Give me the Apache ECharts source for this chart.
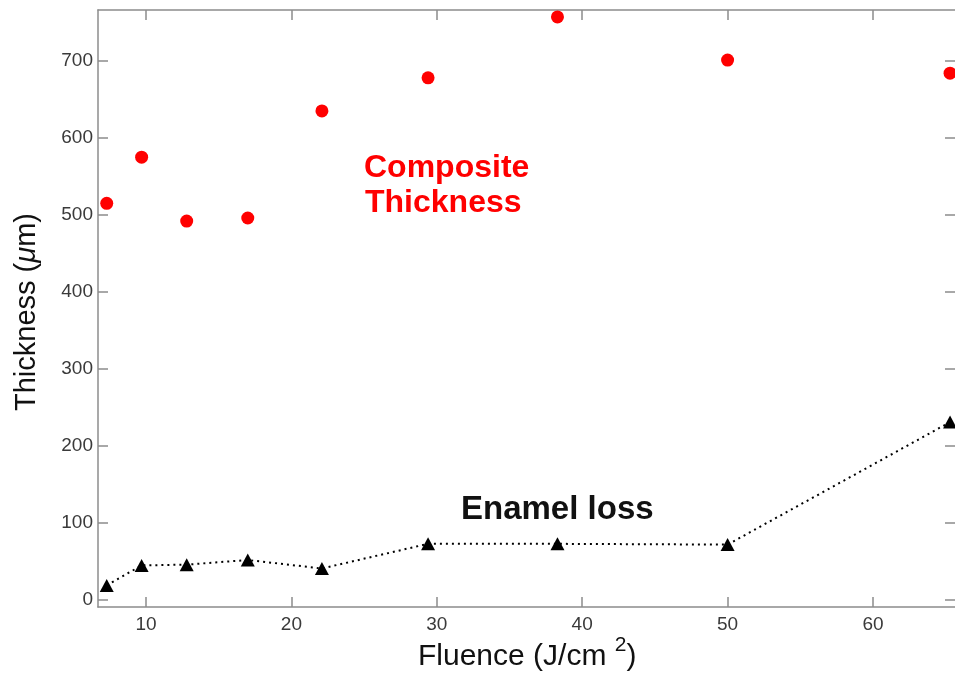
<!DOCTYPE html>
<html>
<head>
<meta charset="utf-8">
<script src="https://cdn.jsdelivr.net/npm/echarts@6/dist/echarts.min.js"></script>
<style>html,body{margin:0;padding:0;background:#fff}#c{width:955px;height:679px}</style>
</head>
<body>
<div id="c"></div>
<script>
// Data (Fluence J/cm^2)
const fluence = [7.3, 9.7, 12.8, 17.0, 22.1, 29.4, 38.3, 50.0, 65.3];
const compositeThickness = [515, 575, 492, 496, 635, 678, 757, 701, 684];
const enamelLoss = [19, 45, 46, 52, 41, 73, 73, 72, 231];
const xTicks = [10, 20, 30, 40, 50, 60];
const yTicks = [0, 100, 200, 300, 400, 500, 600, 700];

const FONT = 'Liberation Sans, Arial, Helvetica, sans-serif';
const axisGray = '#8c8c8c';
const X_MIN = 6.70, X_MAX = 65.64, Y_MIN = -9, Y_MAX = 766;

const chart = echarts.init(document.getElementById('c'));
const tickStyle = { show: true, inside: true, length: 10, lineStyle: { color: axisGray, width: 1.5 } };
const lineStyle = { color: axisGray, width: 1.5 };

chart.setOption({
  animation: false,
  backgroundColor: '#fff',
  grid: { left: 98, top: 10, right: 0, bottom: 72 },
  xAxis: [
    {
      type: 'value', min: X_MIN, max: X_MAX, position: 'bottom',
      axisLine: { show: true, onZero: false, lineStyle },
      axisTick: Object.assign({ customValues: xTicks }, tickStyle),
      axisLabel: { customValues: xTicks, color: '#3a3a3a', fontSize: 19, fontFamily: FONT, margin: 8 },
      splitLine: { show: false }
    },
    {
      type: 'value', min: X_MIN, max: X_MAX, position: 'top',
      axisLine: { show: true, onZero: false, lineStyle },
      axisTick: Object.assign({ customValues: xTicks }, tickStyle),
      axisLabel: { show: false },
      splitLine: { show: false }
    }
  ],
  yAxis: [
    {
      type: 'value', min: Y_MIN, max: Y_MAX, position: 'left',
      axisLine: { show: true, onZero: false, lineStyle },
      axisTick: Object.assign({ customValues: yTicks }, tickStyle),
      axisLabel: { customValues: yTicks, color: '#3a3a3a', fontSize: 19, fontFamily: FONT, margin: 5 },
      splitLine: { show: false }
    },
    {
      type: 'value', min: Y_MIN, max: Y_MAX, position: 'right',
      axisLine: { show: false, onZero: false, lineStyle },
      axisTick: Object.assign({ customValues: yTicks }, tickStyle),
      axisLabel: { show: false },
      splitLine: { show: false }
    }
  ],
  graphic: [
    {
      type: 'text', x: 418, y: 657,
      style: {
        text: '{n|Fluence (J/cm }{s|2}{n|)}',
        align: 'left', verticalAlign: 'middle',
        rich: {
          n: { fontSize: 30, fontFamily: FONT, fill: '#111' },
          s: { fontSize: 21, fontFamily: FONT, fill: '#111', padding: [0, 0, 24, 0] }
        }
      }
    },
    {
      type: 'text', x: 27, y: 312, rotation: Math.PI / 2,
      style: {
        text: '{n|Thickness (}{i|μ}{n|m)}',
        align: 'center', verticalAlign: 'middle',
        rich: {
          n: { fontSize: 29, fontFamily: FONT, fill: '#111' },
          i: { fontSize: 29, fontFamily: FONT, fill: '#111', fontStyle: 'italic' }
        }
      }
    },
    {
      type: 'text', x: 364, y: 168,
      style: { text: 'Composite', align: 'left', verticalAlign: 'middle', fontSize: 32, fontWeight: 'bold', fontFamily: FONT, fill: '#f00' }
    },
    {
      type: 'text', x: 365, y: 203,
      style: { text: 'Thickness', align: 'left', verticalAlign: 'middle', fontSize: 32, fontWeight: 'bold', fontFamily: FONT, fill: '#f00' }
    },
    {
      type: 'text', x: 461, y: 510,
      style: { text: 'Enamel loss', align: 'left', verticalAlign: 'middle', fontSize: 33, fontWeight: 'bold', fontFamily: FONT, fill: '#111' }
    }
  ],
  series: [
    {
      name: 'Composite Thickness', type: 'scatter', xAxisIndex: 0, yAxisIndex: 0,
      symbol: 'circle', symbolSize: 13,
      itemStyle: { color: '#ff0000', opacity: 1 },
      data: fluence.map((f, i) => [f, compositeThickness[i]])
    },
    {
      name: 'Enamel loss', type: 'line', xAxisIndex: 0, yAxisIndex: 0,
      symbol: 'triangle', symbolSize: [14, 13],
      itemStyle: { color: '#000', opacity: 1 },
      lineStyle: { color: '#000', width: 2, type: [2, 4] },
      data: fluence.map((f, i) => [f, enamelLoss[i]])
    }
  ]
});
</script>
</body>
</html>
